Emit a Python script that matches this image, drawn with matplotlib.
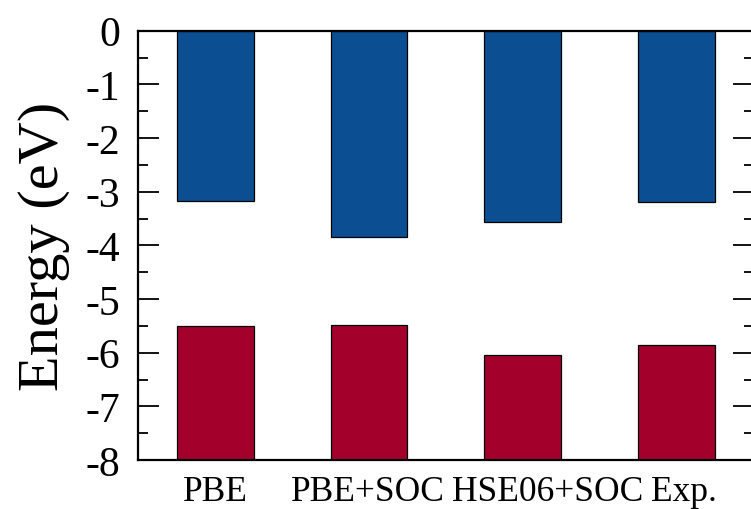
import numpy as np
import matplotlib
matplotlib.use('Agg')
import matplotlib.pyplot as plt
from matplotlib.ticker import MultipleLocator

methods = ['PBE', 'PBE+SOC', 'HSE06+SOC', 'Exp.']
cbm = [-3.18, -3.85, -3.57, -3.20]   # conduction band edge (blue)
vbm = [-5.51, -5.49, -6.04, -5.86]   # valence band edge (red)

plt.rcParams['font.family'] = ['Liberation Serif', 'DejaVu Serif']

fig = plt.figure(figsize=(7.51, 5.10), dpi=100)
ax = fig.add_axes([138.3 / 751, 1 - 461 / 510, 615.2 / 751, 429.3 / 510])

x = np.arange(len(methods))
ymin = -8.0
ax.bar(x, cbm, width=0.5, color='#0B4F92', edgecolor='black', linewidth=0.9)
ax.bar(x, np.array(vbm) - ymin, bottom=ymin, width=0.5, color='#A3002B',
       edgecolor='black', linewidth=0.9)

ax.set_ylim(-8, 0)
ax.set_xlim(-0.5, 3.5)
ax.yaxis.set_minor_locator(MultipleLocator(0.5))
ax.set_yticks(np.arange(-8, 1, 1))
ax.set_yticklabels(['%d' % v for v in np.arange(-8, 1, 1)])
ax.tick_params(axis='y', which='major', direction='in', length=15, width=1.3,
               labelsize=30, pad=13, right=True)
ax.tick_params(axis='y', which='minor', direction='in', length=7.5, width=1.3,
               right=True)

# the labels under the last two bars sit a bit to the right in the original
label_pos = x + np.array([0.0, -0.01, 0.16, 0.05])
ax.set_xticks(label_pos)
ax.set_xticklabels(methods)
ax.tick_params(axis='x', length=0, labelsize=25.5, pad=11)

for s in ax.spines.values():
    s.set_linewidth(1.6)

ax.set_ylabel('Energy (eV)', fontsize=42, labelpad=11)

fig.savefig('out.png', dpi=100)
